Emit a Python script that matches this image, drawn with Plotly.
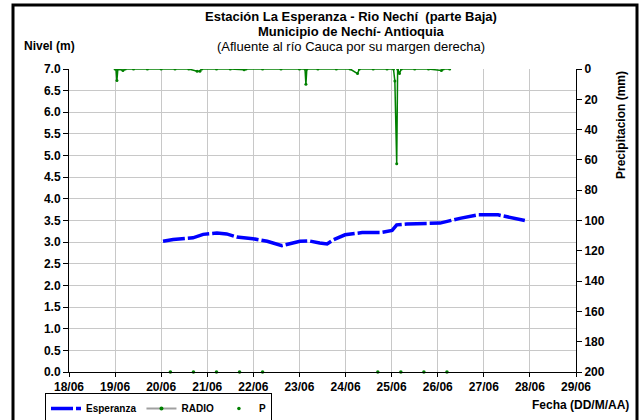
import plotly.graph_objects as go

# ---- data ----
day_ticks = [18, 19, 20, 21, 22, 23, 24, 25, 26, 27, 28, 29]
day_labels = ["18/06", "19/06", "20/06", "21/06", "22/06", "23/06", "24/06",
              "25/06", "26/06", "27/06", "28/06", "29/06"]

esp_t = [20.04, 20.26, 20.69, 20.91, 21.21, 21.42, 21.64, 21.99, 22.30, 22.62,
         23.01, 23.20, 23.44, 23.60, 23.73, 23.99, 24.36, 24.75, 25.01, 25.11,
         25.33, 25.70, 26.05, 26.48, 26.87, 27.31, 27.60, 27.89]
esp_v = [3.02, 3.06, 3.10, 3.18, 3.21, 3.19, 3.12, 3.08, 3.02, 2.92,
         3.02, 3.03, 2.98, 2.96, 3.05, 3.17, 3.22, 3.22, 3.27, 3.40,
         3.42, 3.42, 3.44, 3.55, 3.63, 3.63, 3.56, 3.50]

radio_t = [19.00, 19.02, 19.04, 19.06, 19.10, 19.17, 19.22, 19.40, 19.70, 20.00,
           20.30, 20.60, 20.78, 20.84, 20.88, 21.20, 21.50, 21.80, 21.84, 22.20,
           22.60, 23.00, 23.12, 23.14, 23.16, 23.40, 23.80, 24.10, 24.26, 24.30,
           24.60, 24.90, 25.04, 25.07, 25.11, 25.13, 25.17, 25.21, 25.50, 25.80,
           26.08, 26.12, 26.26]
radio_v = [0.0, 0.0, 7.6, 0.0, 0.0, 1.0, 0.0, 0.0, 0.0, 0.0,
           0.0, 0.0, 1.5, 1.5, 0.0, 0.0, 0.0, 0.5, 0.0, 0.0,
           0.0, 0.0, 0.0, 10.0, 0.0, 0.0, 0.0, 0.0, 3.0, 0.0,
           0.0, 0.0, 0.0, 8.0, 62.5, 0.0, 3.0, 0.0, 0.0, 0.0,
           1.0, 0.0, 0.0]

p_t = [20.2, 20.7, 21.2, 21.7, 22.2, 24.7, 25.2, 25.7, 26.2]
p_v = [0, 0, 0, 0, 0, 0, 0, 0, 0]

FONT = "Liberation Sans, Arial, sans-serif"
GREEN = "#008000"

fig = go.Figure()
fig.add_trace(go.Scatter(x=esp_t, y=esp_v, name="Esperanza", mode="lines",
                         line=dict(color="#0000ff", width=3.5, dash="22px,3px"),
                         yaxis="y"))
fig.add_trace(go.Scatter(x=radio_t, y=radio_v, name="RADIO", mode="lines+markers",
                         line=dict(color=GREEN, width=1.5),
                         marker=dict(color=GREEN, size=3),
                         yaxis="y2", showlegend=False))
# legend entry for RADIO (grey line, green dot, as in reference legend)
fig.add_trace(go.Scatter(x=[None], y=[None], name="RADIO", mode="lines+markers",
                         line=dict(color="#a0a0a0", width=2),
                         marker=dict(color=GREEN, size=4), yaxis="y"))
fig.add_trace(go.Scatter(x=p_t, y=p_v, name="P", mode="markers",
                         marker=dict(color=GREEN, size=3.5), yaxis="y",
                         cliponaxis=False))

L, R, T, B = 69, 65, 69, 48
W, H = 641, 420
pw, ph = W - L - R, H - T - B

def px(x):
    return (x - L) / pw

def py(y):
    return (H - B - y) / ph

TICKFONT = dict(family=FONT, size=12, color="black", weight="bold")

fig.update_layout(
    width=W, height=H,
    margin=dict(l=L, r=R, t=T, b=B, pad=0, autoexpand=False),
    paper_bgcolor="white", plot_bgcolor="white",
    font=dict(family=FONT, size=11, color="black"),
    showlegend=True,
    legend=dict(orientation="h", xref="container", yref="container",
                x=45 / W, y=(H - 393) / H, xanchor="left", yanchor="top",
                bordercolor="black", borderwidth=1, bgcolor="white",
                font=dict(family=FONT, size=10, color="black", weight="bold"),
                itemwidth=30, tracegroupgap=0),
    xaxis=dict(range=[18, 29], tickvals=day_ticks, ticktext=day_labels,
               showgrid=True, gridcolor="#c8c8c8", gridwidth=1, automargin=False,
               showline=True, linecolor="black", linewidth=1,
               ticks="outside", ticklen=4, tickcolor="black",
               tickfont=TICKFONT, zeroline=False),
    yaxis=dict(range=[0, 7], dtick=0.5, tickformat=".1f", automargin=False,
               showgrid=True, gridcolor="#c8c8c8", gridwidth=1,
               showline=True, linecolor="black", linewidth=1,
               ticks="outside", ticklen=5, tickcolor="black",
               tickfont=TICKFONT, zeroline=False),
    yaxis2=dict(range=[200, 0], tickvals=[0, 20, 40, 60, 80, 100, 120, 140, 160, 180, 200],
                overlaying="y", side="right", showgrid=False, automargin=False,
                showline=True, linecolor="black", linewidth=1,
                ticks="outside", ticklen=5, tickcolor="black",
                tickfont=TICKFONT, zeroline=False),
)

ann = [
    dict(text="<b>Estación La Esperanza - Rio Nechí  (parte Baja)</b>", x=px(351), y=py(17), size=13),
    dict(text="<b>Municipio de Nechí- Antioquia</b>", x=px(351), y=py(31), size=13),
    dict(text="(Afluente al río Cauca por su margen derecha)", x=px(351), y=py(46), size=13),
]
for a in ann:
    fig.add_annotation(text=a["text"], x=a["x"], y=a["y"], xref="paper", yref="paper",
                       xanchor="center", yanchor="middle", showarrow=False,
                       font=dict(family=FONT, size=a["size"], color="black"))
fig.add_annotation(text="<b>Nivel (m)</b>", x=px(22), y=py(46), xref="paper", yref="paper",
                   xanchor="left", yanchor="middle", showarrow=False,
                   font=dict(family=FONT, size=12, color="black"))
fig.add_annotation(text="<b>Precipitacion (mm)</b>", x=px(621), y=py(125), xref="paper", yref="paper",
                   xanchor="center", yanchor="middle", showarrow=False, textangle=-90,
                   font=dict(family=FONT, size=12, color="black"))
fig.add_annotation(text="<b>Fecha (DD/M/AA)</b>", x=px(631), y=py(405), xref="paper", yref="paper",
                   xanchor="right", yanchor="middle", showarrow=False,
                   font=dict(family=FONT, size=12, color="black"))

# outer frame
fig.add_shape(type="rect", xref="paper", yref="paper",
              x0=px(13), x1=px(637), y0=py(430), y1=py(5),
              line=dict(color="black", width=3), fillcolor="rgba(0,0,0,0)", layer="below")

fig.write_html("out.html", config={"displayModeBar": False},
               post_script="document.body.style.margin='0';document.body.style.overflow='hidden';")
